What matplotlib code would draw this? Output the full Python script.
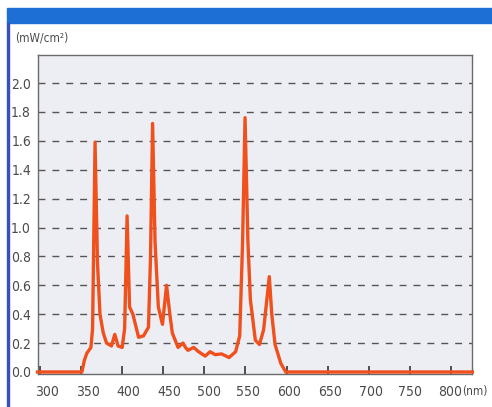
import matplotlib

matplotlib.use("Agg")
import matplotlib.pyplot as plt  # noqa: E402
import matplotlib.transforms as mtransforms  # noqa: E402
from matplotlib.patches import Rectangle  # noqa: E402

# spectrum (nm, mW/cm2)
wavelength = [297, 350, 351, 354, 357, 362, 364, 367, 370, 373, 377, 381,
              387, 391, 395, 400, 403, 406, 409, 413, 420, 426, 432, 434.5,
              437, 440, 444, 449, 454, 458, 461, 468, 474, 477, 480, 487,
              493, 501, 507, 513, 521, 530, 538, 543, 546.5, 549.5, 553,
              556, 562, 567, 572, 576, 579, 582, 586, 593, 599, 603, 826]
irradiance = [0.0, 0.0, 0.0, 0.08, 0.13, 0.17, 0.3, 1.59, 0.75, 0.4, 0.27,
              0.2, 0.18, 0.26, 0.18, 0.17, 0.3, 1.08, 0.45, 0.4, 0.24, 0.25,
              0.31, 0.8, 1.72, 0.9, 0.45, 0.33, 0.6, 0.4, 0.27, 0.17, 0.2,
              0.17, 0.15, 0.17, 0.14, 0.11, 0.14, 0.12, 0.125, 0.1, 0.14,
              0.25, 0.9, 1.76, 0.9, 0.5, 0.22, 0.19, 0.29, 0.5, 0.66, 0.4,
              0.19, 0.06, 0.0, 0.0, 0.0]

x_ticks = [300, 350, 400, 450, 500, 550, 600, 650, 700, 750, 800]
y_ticks = [0.0, 0.2, 0.4, 0.6, 0.8, 1.0, 1.2, 1.4, 1.6, 1.8, 2.0]

W, H = 492, 407
TEXT_COLOR = "#4a4a4a"

plt.rcParams["font.family"] = ["DejaVu Sans"]
plt.rcParams["font.stretch"] = "condensed"

fig = plt.figure(figsize=(W / 100, H / 100), dpi=100)
fig.patch.set_facecolor("white")

# blue header bar and left border
fig.patches.append(Rectangle((7 / W, 1 - 23 / H), 1, 15 / H,
                             transform=fig.transFigure, color="#1d6fd6",
                             zorder=0))
fig.patches.append(Rectangle((7 / W, 0), 1.5 / W, 1 - 23 / H,
                             transform=fig.transFigure, color="#3a4fb8",
                             zorder=0))

left, right, top, bottom = 38, 472, 55, 374
ax = fig.add_axes([left / W, 1 - bottom / H, (right - left) / W,
                   (bottom - top) / H])
ax.set_facecolor("#ededf4")

ax.plot(wavelength, irradiance, color="#f0501c", lw=2.4,
        solid_joinstyle="round", zorder=3, clip_on=False)

ax.set_xlim(297.6, 825.6)
ax.set_ylim(-0.014, 2.194)

ax.set_yticks(y_ticks)
ax.set_yticklabels([f"{v:.1f}" for v in y_ticks])
ax.set_xticks(x_ticks)
ax.set_xticklabels([str(v) for v in x_ticks])

ax.tick_params(axis="y", length=0, pad=5, labelsize=10,
               labelcolor=TEXT_COLOR)
ax.tick_params(axis="x", direction="in", length=6, width=1.2,
               color="#333333", pad=8, labelsize=10, labelcolor=TEXT_COLOR)

# the scanned labels drift slightly right of their ticks
label_shift_px = [7, 7, 6, 6, 5, 3, 2, 2, 2, 0, -1]
for lbl, dx in zip(ax.get_xticklabels(), label_shift_px):
    shift = mtransforms.ScaledTranslation(dx / 100, 0, fig.dpi_scale_trans)
    lbl.set_transform(lbl.get_transform() + shift)

for v in y_ticks[1:]:
    ax.axhline(v, color="#555555", lw=1.0, linestyle=(0, (5, 5)), zorder=1)

for spine in ax.spines.values():
    spine.set_color("#6a6a6a")
    spine.set_linewidth(1.0)

fig.text(15 / W, 1 - 38 / H, "(mW/cm²)", fontsize=8.5, color=TEXT_COLOR,
         va="center", ha="left")
fig.text(462 / W, 1 - 391 / H, "(nm)", fontsize=8.5, color=TEXT_COLOR,
         va="center", ha="left")

fig.savefig("out.png", dpi=100)
